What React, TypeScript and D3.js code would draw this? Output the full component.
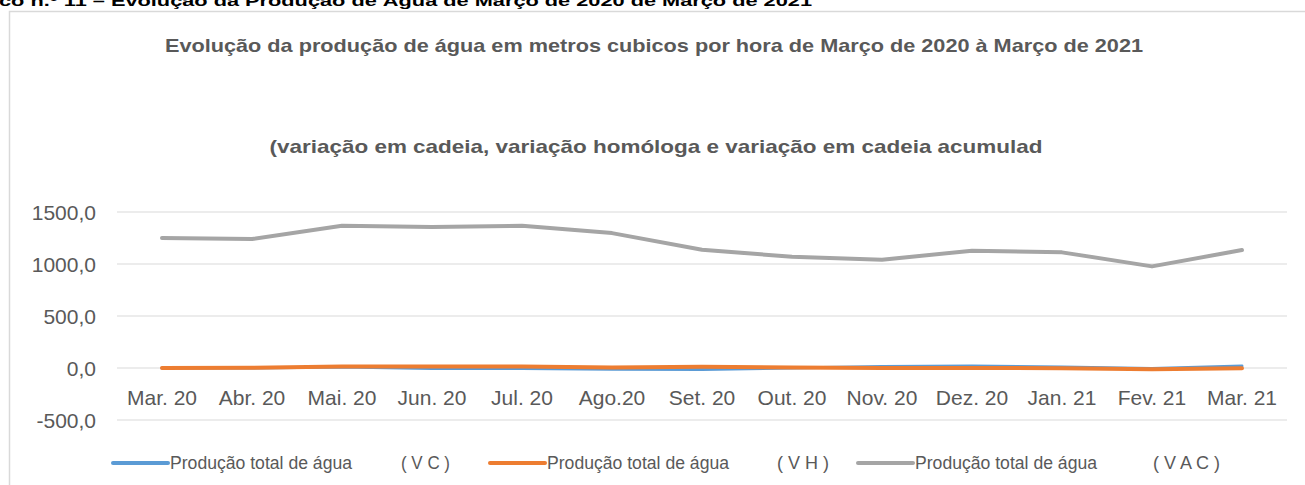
import React from "react";
import * as d3 from "d3";

const months = ["Mar. 20", "Abr. 20", "Mai. 20", "Jun. 20", "Jul. 20", "Ago.20", "Set. 20", "Out. 20", "Nov. 20", "Dez. 20", "Jan. 21", "Fev. 21", "Mar. 21"];
const vcValues = [0, 0, 10, -5, -5, -12, -15, 0, 15, 20, 10, -5, 20];
const vhValues = [0, 3, 15, 15, 15, 5, 12, 5, 0, 0, -2, -12, -2];
const vacValues = [1249, 1240, 1367, 1355, 1367, 1297, 1137, 1070, 1041, 1128, 1112, 977, 1134];
const yTicks = [-500, 0, 500, 1000, 1500];
const seriesNames = ["Produção total de água", "Produção total de água", "Produção total de água"];
const seriesTags = ["( V C )", "( V H )", "( V A C )"];
const seriesColors = ["#5b9bd5", "#ed7d31", "#a5a5a5"];

const W = 1305;
const H = 485;
const FONT = "'Liberation Sans', Arial, sans-serif";

export default function App() {
  const x = d3.scaleBand<string>().domain(months).range([117, 1287]);
  const y = d3.scaleLinear().domain([-500, 1500]).range([420, 212]);
  const cx = (m: string) => (x(m) as number) + x.bandwidth() / 2;
  const line = d3
    .line<number>()
    .x((_, i) => cx(months[i]))
    .y((v) => y(v));
  const fmt = (v: number) => v.toFixed(1).replace(".", ",");
  const series = [vcValues, vhValues, vacValues];
  const widths = [3, 4, 4];

  const legendX = [113, 490, 858];
  const tagX = [401, 777, 1153];
  const tagW = [49, 52, 67];

  return (
    <svg width={W} height={H} style={{ position: "absolute", left: 0, top: 0, background: "#fff" }} fontFamily={FONT}>
      <rect x={0} y={0} width={W} height={H} fill="#fff" />
      <text x={-1} y={6} fontSize={15} fontWeight="bold" fill="#000" textLength={813} lengthAdjust="spacingAndGlyphs">
        co n.º 11 – Evolução da Produção de Água de Março de 2020 de Março de 2021
      </text>
      <rect x={9.5} y={11.5} width={1320} height={500} fill="none" stroke="#d9d9d9" strokeWidth={1.5} />
      <text x={654} y={52} textAnchor="middle" fontSize={18.5} fontWeight="bold" fill="#595959" textLength={978} lengthAdjust="spacingAndGlyphs">
        Evolução da produção de água em metros cubicos por hora de Março de 2020 à Março de 2021
      </text>
      <text x={656} y={153} textAnchor="middle" fontSize={18.5} fontWeight="bold" fill="#595959" textLength={773} lengthAdjust="spacingAndGlyphs">
        (variação em cadeia, variação homóloga e variação em cadeia acumulad
      </text>
      {yTicks.map((t) => (
        <g key={t}>
          <line x1={117} x2={1287} y1={y(t)} y2={y(t)} stroke="#d9d9d9" strokeWidth={1} />
          <text x={96} y={y(t) + 7.5} textAnchor="end" fontSize={21} fill="#595959">
            {fmt(t)}
          </text>
        </g>
      ))}
      {months.map((m) => (
        <text key={m} x={cx(m)} y={404.5} textAnchor="middle" fontSize={21} fill="#595959">
          {m}
        </text>
      ))}
      {series.map((s, i) => (
        <path key={i} d={line(s) as string} fill="none" stroke={seriesColors[i]} strokeWidth={widths[i]} strokeLinecap="round" strokeLinejoin="round" />
      ))}
      {seriesNames.map((n, i) => (
        <g key={i}>
          <line x1={legendX[i]} x2={legendX[i] + 55} y1={463} y2={463} stroke={seriesColors[i]} strokeWidth={4} strokeLinecap="round" />
          <text x={legendX[i] + 57} y={469} fontSize={17.5} fill="#595959" textLength={182} lengthAdjust="spacingAndGlyphs">
            {n}
          </text>
          <text x={tagX[i]} y={469} fontSize={17.5} fill="#595959" textLength={tagW[i]} lengthAdjust="spacingAndGlyphs">
            {seriesTags[i]}
          </text>
        </g>
      ))}
    </svg>
  );
}
